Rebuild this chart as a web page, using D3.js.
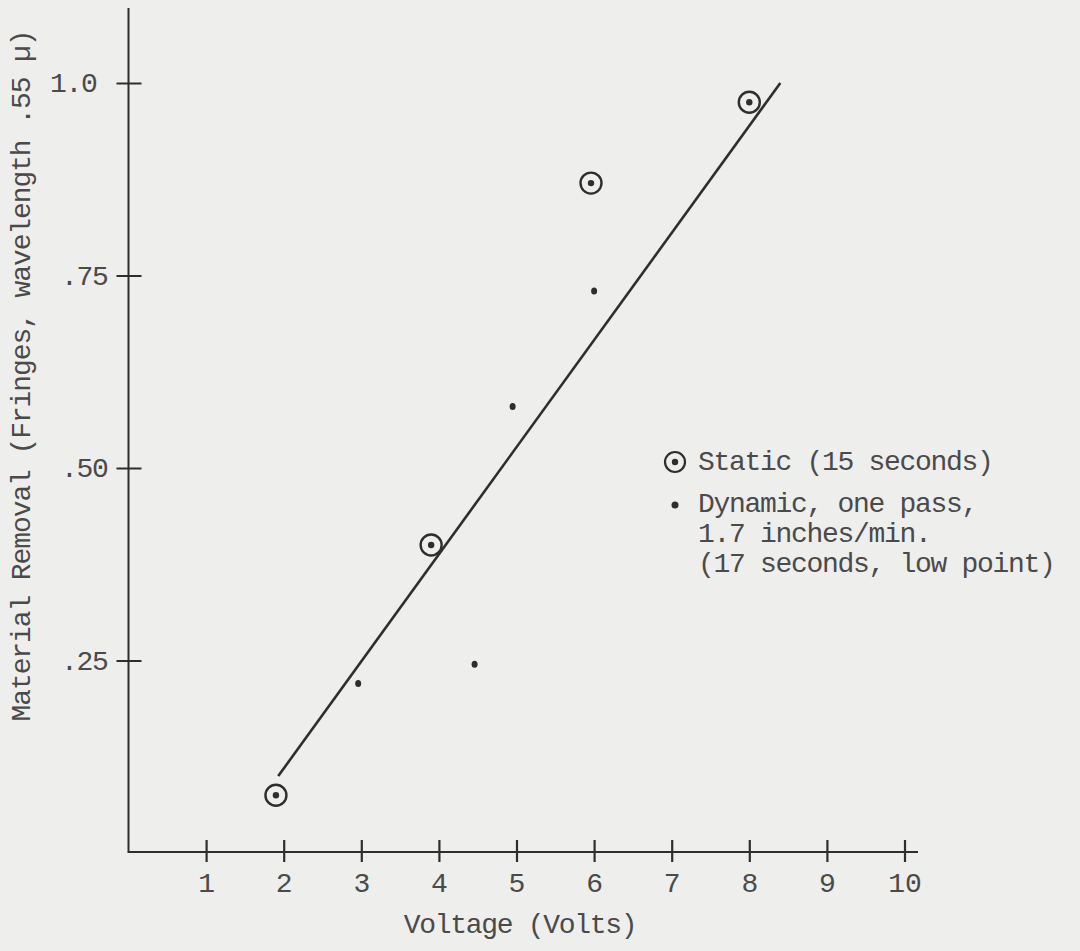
<!DOCTYPE html>
<html>
<head>
<meta charset="utf-8">
<script src="https://cdn.jsdelivr.net/npm/d3@7"></script>
<style>
  body { margin: 0; background: #eeeeec; }
  svg { display: block; }
  text { font-family: "Liberation Mono", "Courier New", monospace; fill: #4a4a4a; }
</style>
</head>
<body>
<script>
// values
const xTicks = [1, 2, 3, 4, 5, 6, 7, 8, 9, 10];
const yTicks = [0.25, 0.5, 0.75, 1.0];
const yTickLabels = ['.25', '.50', '.75', '1.0'];

// static (15 seconds), circled points
const staticX = [1.9, 3.9, 5.96, 8.0];
const staticY = [0.075, 0.40, 0.87, 0.975];

// dynamic, one pass, plain dots
const dynamicX = [2.96, 4.46, 4.95, 6.0];
const dynamicY = [0.22, 0.245, 0.58, 0.73];

// hand drawn fit line, two end points
const fitX = [1.93, 8.4];
const fitY = [0.10, 1.0];

const legendLabels = [
  ['Static (15 seconds)'],
  ['Dynamic, one pass,', '1.7 inches/min.', '(17 seconds, low point)'],
];

const w = 1080;
const h = 951;
const ink = '#2e2e2e';
const fontSize = 28;

const svg = d3.select('body')
  .append('svg')
  .attr('width', w)
  .attr('height', h);

// scales
const x = d3.scaleLinear().domain([0, 10]).range([128.5, 904.5]);
const y = d3.scaleLinear().domain([0, 1]).range([853, 83]);

// y axis line and ticks
svg.append('line')
  .attr('x1', x(0)).attr('x2', x(0))
  .attr('y1', 8).attr('y2', y(0))
  .attr('stroke', ink).attr('stroke-width', 2);

const yAxis = d3.axisLeft(y)
  .tickValues(yTicks)
  .tickSize(0)
  .tickFormat((d, i) => yTickLabels[i]);

const gy = svg.append('g')
  .attr('transform', `translate(${x(0)},0)`)
  .call(yAxis);
gy.select('.domain').remove();
gy.selectAll('.tick line')
  .attr('x1', -12).attr('x2', 13)
  .attr('stroke', ink).attr('stroke-width', 2);
gy.selectAll('.tick text')
  .attr('x', d => d === 1 ? -32 : -21)
  .attr('dy', '0.32em')
  .style('font-size', `${fontSize}px`)
  .style('letter-spacing', '-1.3px')
  .style('font-family', '"Liberation Mono", monospace')
  .attr('fill', '#4a4a4a');

// x axis line and ticks
svg.append('line')
  .attr('x1', x(0)).attr('x2', 918)
  .attr('y1', y(0) - 1).attr('y2', y(0) - 1)
  .attr('stroke', ink).attr('stroke-width', 2);

const xAxis = d3.axisBottom(x)
  .tickValues(xTicks)
  .tickSize(0)
  .tickFormat(d3.format('d'));

const gx = svg.append('g')
  .attr('transform', `translate(0,${y(0) - 1})`)
  .call(xAxis);
gx.select('.domain').remove();
gx.selectAll('.tick line')
  .attr('y1', -12).attr('y2', 10)
  .attr('stroke', ink).attr('stroke-width', 2.2);
gx.selectAll('.tick text')
  .attr('y', 40)
  .attr('dy', 0)
  .style('font-size', `${fontSize}px`)
  .style('font-family', '"Liberation Mono", monospace')
  .attr('fill', '#4a4a4a');

// axis titles
svg.append('text')
  .attr('x', 520)
  .attr('y', 933)
  .attr('text-anchor', 'middle')
  .style('font-size', `${fontSize}px`)
  .style('letter-spacing', '-1.3px')
  .text('Voltage (Volts)');

svg.append('text')
  .attr('transform', 'translate(30,376) rotate(-90)')
  .attr('text-anchor', 'middle')
  .style('font-size', `${fontSize}px`)
  .style('letter-spacing', '-1.1px')
  .text('Material Removal (Fringes, wavelength .55 µ)');

// fit line
svg.append('line')
  .attr('x1', x(fitX[0])).attr('y1', y(fitY[0]))
  .attr('x2', x(fitX[1])).attr('y2', y(fitY[1]))
  .attr('stroke', ink).attr('stroke-width', 2.6);

// static points
const staticPts = staticX.map((d, i) => ({ x: d, y: staticY[i] }));
const sp = svg.append('g').selectAll('g')
  .data(staticPts)
  .enter()
  .append('g')
  .attr('transform', d => `translate(${x(d.x)},${y(d.y)})`);
sp.append('circle')
  .attr('r', 10.5)
  .attr('fill', 'none')
  .attr('stroke', ink)
  .attr('stroke-width', 2.4);
sp.append('circle')
  .attr('r', 3.2)
  .attr('fill', ink);

// dynamic points
const dynamicPts = dynamicX.map((d, i) => ({ x: d, y: dynamicY[i] }));
svg.append('g').selectAll('ellipse')
  .data(dynamicPts)
  .enter()
  .append('ellipse')
  .attr('cx', d => x(d.x))
  .attr('cy', d => y(d.y))
  .attr('rx', 3)
  .attr('ry', 3.5)
  .attr('fill', ink);

// legend
const legend = svg.append('g').attr('transform', 'translate(675,462)');
legend.append('circle')
  .attr('r', 10)
  .attr('fill', 'none')
  .attr('stroke', ink)
  .attr('stroke-width', 2.2);
legend.append('circle').attr('r', 3.2).attr('fill', ink);
legend.append('circle').attr('cy', 43).attr('r', 3.5).attr('fill', ink);

legendLabels.forEach((lines, i) => {
  lines.forEach((t, j) => {
    legend.append('text')
      .attr('x', 23)
      .attr('y', (i === 0 ? 8 : 50) + j * 30)
      .style('font-size', `${fontSize}px`)
      .style('letter-spacing', '-1.3px')
      .text(t);
  });
});
</script>
</body>
</html>
